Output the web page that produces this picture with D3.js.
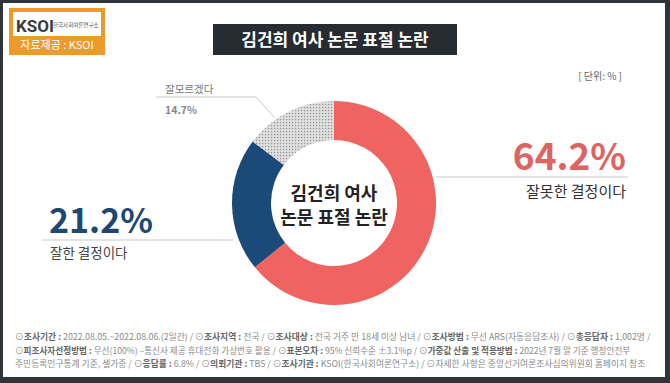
<!DOCTYPE html>
<html><head><meta charset="utf-8">
<script src="https://cdn.jsdelivr.net/npm/d3@7/dist/d3.min.js"></script>
<style>
html,body{margin:0;padding:0;background:#fff;}
svg{display:block;font-family:"Noto Sans CJK KR","Noto Sans",sans-serif;}
</style></head>
<body>
<svg id="c" width="670" height="383"></svg>
<script>
const title = "김건희 여사 논문 표절 논란";
const centerLines = ["김건희 여사", "논문 표절 논란"];
const categories = ["잘못한 결정이다", "잘한 결정이다", "잘모르겠다"];
const values = [64.2, 21.2, 14.7];
const colors = ["#ef6461", "#1c4a78", "url(#dots)"];
const unitLabel = "[ 단위: % ]";
const footerLines = [
  [["⊙", 0], ["조사기간 : ", 1], ["2022.08.05.~2022.08.06.(2일간) / ⊙", 0], ["조사지역 : ", 1], ["전국 / ⊙", 0], ["조사대상 : ", 1], ["전국 거주 만 18세 이상 남녀 / ⊙", 0], ["조사방법 : ", 1], ["무선 ARS(자동응답조사) / ⊙", 0], ["총응답자 : ", 1], ["1,002명 /", 0]],
  [["⊙", 0], ["피조사자선정방법 : ", 1], ["무선(100%) –통신사 제공 휴대전화 가상번호 활용 / ⊙", 0], ["표본오차 : ", 1], ["95% 신뢰수준 ±3.1%p / ⊙", 0], ["가중값 산출 및 적용방법 : ", 1], ["2022년 7월 말 기준 행정안전부", 0]],
  [["주민등록인구통계 기준, 셀가중 / ⊙", 0], ["응답률 : ", 1], ["6.8% / ⊙", 0], ["의뢰기관 : ", 1], ["TBS / ⊙", 0], ["조사기관 : ", 1], ["KSOI(한국사회여론연구소) / ⊙자세한 사항은 중앙선거여론조사심의위원회 홈페이지 참조", 0]]
];
const footerWidths = [636, 616, 631];

const svg = d3.select("#c");
const defs = svg.append("defs");
const pat = defs.append("pattern").attr("id", "dots").attr("width", 3).attr("height", 3).attr("patternUnits", "userSpaceOnUse");
pat.append("rect").attr("width", 3).attr("height", 3).attr("fill", "#d6d6d6");
pat.append("rect").attr("x", 0).attr("y", 0).attr("width", 1.1).attr("height", 1.1).attr("fill", "#959595");
pat.append("rect").attr("x", 1.5).attr("y", 1.5).attr("width", 1.2).attr("height", 1.2).attr("fill", "#f2f2f2");

// frame
svg.append("rect").attr("width", 670).attr("height", 383).attr("fill", "#2f3439");
svg.append("rect").attr("x", 3).attr("y", 3).attr("width", 662).attr("height", 374).attr("fill", "#ffffff");

// logo
svg.append("rect").attr("x", 9).attr("y", 8).attr("width", 96).attr("height", 47).attr("fill", "#ec9a2a");
svg.append("rect").attr("x", 13).attr("y", 12).attr("width", 88).attr("height", 24).attr("fill", "#ffffff");
svg.append("text").attr("x", 16).attr("y", 32).attr("font-size", 17).attr("font-weight", 700)
  .attr("font-family", "Roboto, sans-serif").attr("fill", "#3b3b3b").text("KSOI");
svg.append("text").attr("x", 53).attr("y", 27).attr("font-size", 5.5).attr("fill", "#555").text("한국사회여론연구소");
svg.append("text").attr("x", 57).attr("y", 49).attr("font-size", 11).attr("fill", "#fff").attr("text-anchor", "middle").text("자료제공 : KSOI");

// title
svg.append("rect").attr("x", 213).attr("y", 24).attr("width", 244).attr("height", 31).attr("fill", "#262c31");
svg.append("text").attr("x", 335).attr("y", 46).attr("text-anchor", "middle").attr("font-size", 17)
  .attr("font-weight", 700).attr("fill", "#fff").text(title);

// unit
svg.append("text").attr("x", 622).attr("y", 80).attr("text-anchor", "end").attr("font-size", 10)
  .attr("fill", "#666").text(unitLabel);

// donut
const cx = 334, cy = 203, R = 102, r = 63;
const pie = d3.pie().sort(null).value(d => d)(values);
const arc = d3.arc().innerRadius(r).outerRadius(R);
const g = svg.append("g").attr("transform", `translate(${cx},${cy})`);
g.selectAll("path").data(pie).join("path").attr("d", arc).attr("fill", (d, i) => colors[i]);

// center text
centerLines.forEach((t, i) => {
  svg.append("text").attr("x", cx).attr("y", cy - 3 + i * 24).attr("text-anchor", "middle")
    .attr("font-size", 18).attr("font-weight", 700).attr("fill", "#222").text(t);
});

// leader lines
const fmt = v => d3.format(".1f")(v) + "%";
svg.append("line").attr("x1", cx + R).attr("y1", 177).attr("x2", 628).attr("y2", 177).attr("stroke", "#c8c8c8").attr("stroke-width", 1);
svg.append("line").attr("x1", 42).attr("y1", 240).attr("x2", cx - R + 1).attr("y2", 240).attr("stroke", "#c8c8c8").attr("stroke-width", 1);
svg.append("polyline").attr("points", "156,97 256,97 275,118").attr("fill", "none").attr("stroke", "#c8c8c8").attr("stroke-width", 1);

// labels
svg.append("text").attr("x", 626).attr("y", 170).attr("text-anchor", "end").attr("font-size", 37)
  .attr("font-weight", 700).attr("fill", "#dd6463").text(fmt(values[0]));
svg.append("text").attr("x", 626).attr("y", 197).attr("text-anchor", "end").attr("font-size", 15)
  .attr("fill", "#333").text(categories[0]);

svg.append("text").attr("x", 49).attr("y", 233).attr("font-size", 34)
  .attr("font-weight", 700).attr("fill", "#1e4872").text(fmt(values[1]));
svg.append("text").attr("x", 50).attr("y", 258).attr("font-size", 13.5)
  .attr("fill", "#444").text(categories[1]);

svg.append("text").attr("x", 165).attr("y", 93).attr("font-size", 10.5)
  .attr("fill", "#777").text(categories[2]);
svg.append("text").attr("x", 165).attr("y", 114).attr("font-size", 10.5).attr("font-weight", 700)
  .attr("fill", "#888").text(fmt(values[2]));

// footer
footerLines.forEach((line, i) => {
  const t = svg.append("text").attr("x", 15).attr("y", 340 + i * 13.5).attr("font-size", 8.3).attr("fill", "#8a8a8a");
  line.forEach(([s, b]) => {
    t.append("tspan").text(s).attr("font-weight", b ? 700 : 400).attr("fill", b ? "#666" : "#8a8a8a");
  });
  const w = t.node().getComputedTextLength();
  t.attr("font-size", 8.3 * footerWidths[i] / w);
});
</script>
</body></html>
